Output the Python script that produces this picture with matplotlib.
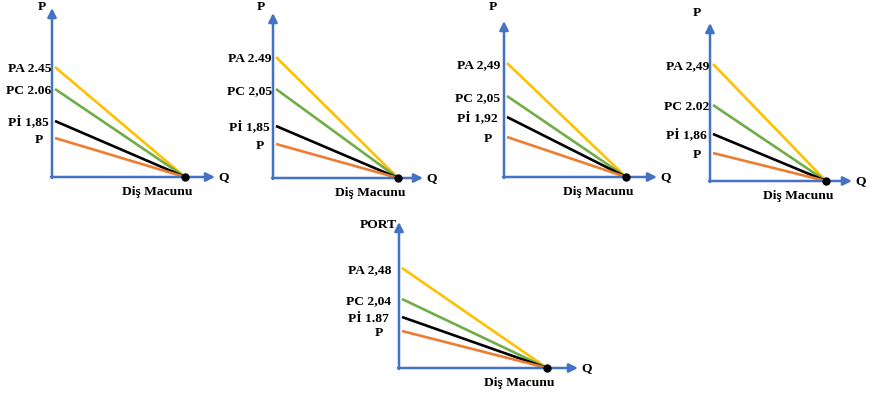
import matplotlib
matplotlib.use('Agg')
import matplotlib.pyplot as plt

# Diagram data: one entry per small chart
y_titles = ['P', 'P', 'P', 'P', 'PORT']
pa_labels = ['PA 2.45', 'PA 2.49', 'PA 2,49', 'PA 2,49', 'PA 2,48']
pc_labels = ['PC 2.06', 'PC 2,05', 'PC 2,05', 'PC 2.02', 'PC 2,04']
pi_labels = ['Pİ 1,85', 'Pİ 1,85', 'Pİ 1,92', 'Pİ 1,86', 'Pİ 1.87']
p_labels = ['P', 'P', 'P', 'P', 'P']
x_label = 'Diş Macunu'
q_label = 'Q'

# line start heights (axis units = pixels above Q axis)
pa_start = [110, 121, 114, 117, 100]
pc_start = [88, 89, 81, 76, 69]
pi_start = [56, 52, 60, 47, 51]
p_start = [39, 34, 40, 28, 37]
# where all lines meet on the Q axis
q_end = [133, 125, 122, 116, 148]

# layout of each panel in pixels: origin x, origin y, width, height
boxes = [(52, 177, 163, 169), (273, 178, 150, 165), (504, 177, 153, 156),
         (710, 181, 142, 158), (399, 368, 179, 146)]
title_pos = [(-10, 170), (-12, 171), (-11, 170), (-13, 168), (-2, 143)]
label_gap = [1, 1, 4, 1, 8]

blue = '#4472C4'
colors = ['#FFC000', '#70AD47', 'black', '#ED7D31']
font = dict(family='Liberation Serif', fontweight='bold', fontsize=9.7)

W, H = 877, 397
fig = plt.figure(figsize=(W / 100, H / 100), dpi=100)

for i, (x0, y0, w, h) in enumerate(boxes):
    ax = fig.add_axes([x0 / W, (H - y0) / H, w / W, h / H])
    ax.set_xlim(0, w)
    ax.set_ylim(0, h)
    ax.axis('off')

    # axes arrows
    arrow = dict(arrowstyle='-|>', color=blue, lw=1.8, mutation_scale=13,
                 shrinkA=0, shrinkB=0)
    ax.annotate('', xy=(0, h), xytext=(0, -1), arrowprops=arrow, annotation_clip=False)
    ax.annotate('', xy=(w, 0), xytext=(-1, 0), arrowprops=arrow, annotation_clip=False)

    starts = [pa_start[i], pc_start[i], pi_start[i], p_start[i]]
    for s, c in zip(starts, colors):
        ax.plot([3, q_end[i]], [s, 0], color=c, lw=1.9, solid_capstyle='butt',
                clip_on=False)
    ax.plot(q_end[i], 0, 'o', color='black', ms=5, clip_on=False, zorder=5)

    g = label_gap[i]
    ax.text(-g, pa_start[i] - 2, pa_labels[i], ha='right', va='center', **font)
    ax.text(-g, pc_start[i] - 2, pc_labels[i], ha='right', va='center', **font)
    ax.text(-g - 2, pi_start[i] - 2, pi_labels[i], ha='right', va='center', **font)
    ax.text(-g - 8, p_start[i] - 2, p_labels[i], ha='right', va='center', **font)

    tx, ty = title_pos[i]
    ax.text(tx, ty, y_titles[i], ha='right' if i == 4 else 'center', va='center', **font)
    ax.text(w + 3, 0, q_label, ha='left', va='center', **font)
    ax.text(q_end[i] - 28, -15, x_label, ha='center', va='center', **font)

fig.savefig('out.png', dpi=100)
